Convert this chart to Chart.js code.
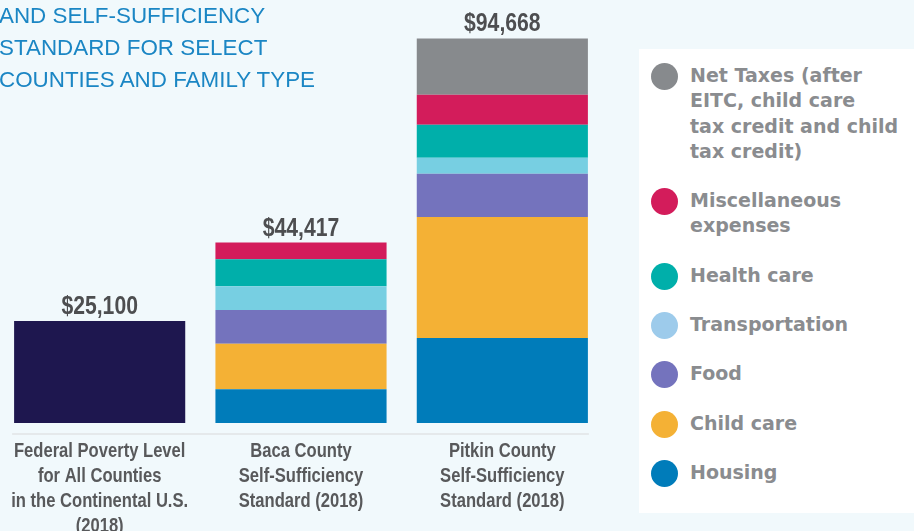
<!DOCTYPE html>
<html>
<head>
<meta charset="utf-8">
<script src="https://cdn.jsdelivr.net/npm/chart.js@4/dist/chart.umd.min.js"></script>
<style>
  body {
    margin: 0;
    width: 914px;
    height: 531px;
    overflow: hidden;
    background: #f1f9fc;
    position: relative;
  }
  #title {
    position: absolute;
    left: -1px;
    top: 0;
    font: 22.4px 'Liberation Sans', Arial, sans-serif;
    line-height: 32px;
    color: #1b86c4;
    white-space: nowrap;
    z-index: 2;
  }
  #chart-wrap {
    position: absolute;
    left: -1px;
    top: 0;
    width: 604px;
    height: 531px;
  }
  #legend {
    position: absolute;
    left: 639px;
    top: 49px;
    width: 280px;
    height: 464px;
    background: #fff;
    box-sizing: border-box;
    padding: 14px 0 0 12px;
  }
  .legend-item {
    display: flex;
    align-items: flex-start;
    margin-bottom: 24px;
  }
  .legend-dot {
    flex: none;
    width: 27px;
    height: 27px;
    margin-bottom: -1.7px;
    border-radius: 50%;
    margin-right: 12px;
  }
  .legend-text {
    font: bold 19px 'DejaVu Sans', sans-serif;
    line-height: 25.3px;
    color: #8a8c8f;
    white-space: nowrap;
  }
</style>
</head>
<body>
<div id="title">AND SELF-SUFFICIENCY<br>STANDARD FOR SELECT<br>COUNTIES AND FAMILY TYPE</div>
<div id="chart-wrap"><canvas id="costChart"></canvas></div>
<div id="legend"></div>

<script>
const categories = [
  ['Federal Poverty Level', 'for All Counties', 'in the Continental U.S.', '(2018)'],
  ['Baca County', 'Self-Sufficiency', 'Standard (2018)'],
  ['Pitkin County', 'Self-Sufficiency', 'Standard (2018)'],
];

// bottom to top in each bar
const seriesNames = [
  'Housing',
  'Child care',
  'Food',
  'Transportation',
  'Health care',
  'Miscellaneous expenses',
  'Net Taxes (after EITC, child care tax credit and child tax credit)',
];
const legendLines = [
  ['Housing'],
  ['Child care'],
  ['Food'],
  ['Transportation'],
  ['Health care'],
  ['Miscellaneous', 'expenses'],
  ['Net Taxes (after', 'EITC, child care', 'tax credit and child', 'tax credit)'],
];
const povertyLevel = [25100, null, null];
const housing = [null, 8298, 20951];
const childCare = [null, 11226, 29797];
const food = [null, 8298, 10598];
const transportation = [null, 5857, 3943];
const healthCare = [null, 6663, 8158];
const miscellaneous = [null, 4075, 7345];
const netTaxes = [null, 0, 13876];

const seriesValues = [housing, childCare, food, transportation, healthCare, miscellaneous, netTaxes];
const barColors = ['#007cba', '#f4b135', '#7473bd', '#77cfe2', '#00afaa', '#d31c5b', '#878a8d'];
const dotColors = ['#007cba', '#f4b135', '#7473bd', '#9dcbeb', '#00afaa', '#d31c5b', '#878a8d'];
const povertyColor = '#1e174f';

const datasets = [
  {
    label: 'Federal Poverty Level',
    data: povertyLevel,
    backgroundColor: povertyColor,
  },
  ...seriesNames.map((name, i) => ({
    label: name,
    data: seriesValues[i],
    backgroundColor: barColors[i],
  })),
];

// condensed text: no narrow face installed, so squeeze a normal one
const drawNarrow = (ctx, text, x, y, squeeze) => {
  ctx.save();
  ctx.translate(x, y);
  ctx.scale(squeeze, 1);
  ctx.fillText(text, 0, 0);
  ctx.restore();
};

// totals above the bars, category names under them, thin base line
const barExtras = {
  id: 'barExtras',
  afterDraw(chart) {
    const ctx = chart.ctx;
    const area = chart.chartArea;
    const xScale = chart.scales.x;
    const tops = categories.map(() => null);
    chart.getSortedVisibleDatasetMetas().forEach((meta) => {
      meta.data.forEach((bar, i) => {
        const v = chart.data.datasets[meta.index].data[i];
        if (v && (tops[i] === null || bar.y < tops[i].y)) tops[i] = bar;
      });
    });

    ctx.save();
    ctx.textAlign = 'center';
    ctx.textBaseline = 'alphabetic';

    ctx.font = 'bold 25.5px "Liberation Sans", sans-serif';
    ctx.fillStyle = '#4d4e50';
    tops.forEach((bar, i) => {
      const total = chart.data.datasets.reduce((s, d) => s + (d.data[i] || 0), 0);
      drawNarrow(ctx, '$' + total.toLocaleString('en-US'), bar.x, bar.y - 7, 0.83);
    });

    ctx.font = 'bold 21px "Liberation Sans", sans-serif';
    ctx.fillStyle = '#58595b';
    categories.forEach((lines, i) => {
      const x = xScale.getPixelForTick(i);
      lines.forEach((line, j) => {
        drawNarrow(ctx, line, x, area.bottom + 22 + j * 25, 0.79);
      });
    });

    const first = tops[0];
    const last = tops[tops.length - 1];
    ctx.strokeStyle = '#e5e9eb';
    ctx.lineWidth = 2;
    ctx.beginPath();
    ctx.moveTo(first.x - first.width / 2 - 2, area.bottom - 1);
    ctx.lineTo(last.x + last.width / 2 + 1, area.bottom - 1);
    ctx.stroke();
    ctx.restore();
  },
};

new Chart(document.getElementById('costChart'), {
  type: 'bar',
  data: { labels: categories, datasets: datasets },
  options: {
    responsive: true,
    maintainAspectRatio: false,
    animation: false,
    layout: { padding: 0 },
    datasets: {
      bar: { barPercentage: 0.85, categoryPercentage: 1, borderWidth: 0 },
    },
    scales: {
      x: {
        stacked: true,
        grid: { display: false, drawTicks: false },
        border: { display: false },
        ticks: { display: false },
        afterFit: (scale) => {
          scale.height = 96;
        },
      },
      y: {
        stacked: true,
        display: false,
        min: -2954,
        max: 104147,
      },
    },
    plugins: {
      legend: { display: false },
      tooltip: { enabled: false },
    },
  },
  plugins: [barExtras],
});

// legend panel, top entry = top of the stack
const legendEl = document.getElementById('legend');
for (let i = seriesNames.length - 1; i >= 0; i--) {
  const item = document.createElement('div');
  item.className = 'legend-item';
  item.innerHTML = `
    <span class="legend-dot" style="background:${dotColors[i]}"></span>
    <span class="legend-text">${legendLines[i].join('<br>')}</span>
  `;
  legendEl.appendChild(item);
}
</script>
</body>
</html>
